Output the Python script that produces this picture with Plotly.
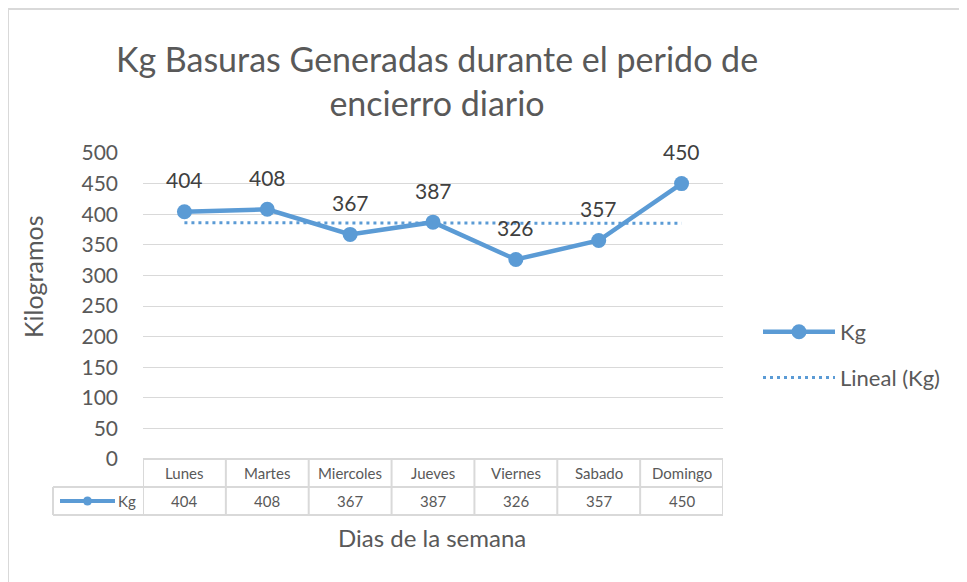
import numpy as np
import plotly.graph_objects as go

# datos del grafico
dias = ["Lunes", "Martes", "Miercoles", "Jueves", "Viernes", "Sabado", "Domingo"]
kg = [404, 408, 367, 387, 326, 357, 450]
y_ticks = [0, 50, 100, 150, 200, 250, 300, 350, 400, 450, 500]

AZUL = "#5B9BD5"
GRIS = "#595959"
REJILLA = "#D9D9D9"
FUENTE = "Lato, 'Open Sans', sans-serif"

# linea de tendencia lineal (como en Excel)
idx = np.arange(len(kg))
pend, orig = np.polyfit(idx, kg, 1)
tendencia = list(orig + pend * idx)

W, H = 967, 582
OFF = 8  # la pagina deja 8px de margen alrededor de la figura
L, R, T, B = 143, 723, 153, 459  # area de trazado en pixeles de pagina


def px(x):
    return (x - L) / (R - L)


def py(y):
    return (B - y) / (B - T)


fig = go.Figure()

fig.add_trace(go.Scatter(
    x=dias, y=kg, name="Kg", mode="lines+markers",
    line=dict(color=AZUL, width=4.5),
    marker=dict(color=AZUL, size=15),
    legendgroup="a",
))
fig.add_trace(go.Scatter(
    x=dias, y=tendencia, name="Lineal (Kg)", mode="lines",
    line=dict(color=AZUL, width=3, dash="3px,4px"),
    legendgroup="b",
))

annotations = []
# etiquetas de datos
for d, v in zip(dias, kg):
    annotations.append(dict(
        x=d, y=v, xref="x", yref="y", text=str(v), showarrow=False,
        yshift=32, font=dict(size=21, color="#404040", family=FUENTE),
    ))

# tabla de datos bajo el eje
fila1 = py(473)
fila2 = py(501)
for d, v in zip(dias, kg):
    annotations.append(dict(
        x=d, y=fila1, xref="x", yref="paper", text=d, showarrow=False,
        xanchor="center", yanchor="middle",
        font=dict(size=15, color=GRIS, family=FUENTE),
    ))
    annotations.append(dict(
        x=d, y=fila2, xref="x", yref="paper", text=str(v), showarrow=False,
        xanchor="center", yanchor="middle",
        font=dict(size=15, color=GRIS, family=FUENTE),
    ))
annotations.append(dict(
    x=px(138), y=fila2, xref="paper", yref="paper", text="Kg", showarrow=False,
    xanchor="right", yanchor="middle",
    font=dict(size=15, color=GRIS, family=FUENTE),
))

# titulos de ejes
annotations.append(dict(
    x=px(33), y=py(277), xref="paper", yref="paper", text="Kilogramos",
    textangle=-90, showarrow=False, xanchor="center", yanchor="middle",
    font=dict(size=25, color=GRIS, family=FUENTE),
))
annotations.append(dict(
    x=px(432), y=py(537), xref="paper", yref="paper", text="Dias de la semana",
    showarrow=False, xanchor="center", yanchor="middle",
    font=dict(size=24, color=GRIS, family=FUENTE),
))

shapes = []
borde = dict(color=REJILLA, width=2)
# lineas horizontales de la tabla
shapes.append(dict(type="line", xref="x", yref="paper", x0=-0.5, x1=6.5,
                   y0=py(459), y1=py(459), line=borde))
for yy in (487, 515):
    shapes.append(dict(type="line", xref="paper", yref="paper", x0=px(53), x1=1,
                       y0=py(yy), y1=py(yy), line=borde))
# lineas verticales de la tabla
for i in range(len(dias) + 1):
    shapes.append(dict(type="line", xref="x", yref="paper", x0=i - 0.5, x1=i - 0.5,
                       y0=py(459), y1=py(515), line=borde))
shapes.append(dict(type="line", xref="paper", yref="paper", x0=px(53), x1=px(53),
                   y0=py(487), y1=py(515), line=borde))
# clave de leyenda dentro de la tabla
shapes.append(dict(type="line", xref="paper", yref="paper", x0=px(60), x1=px(115),
                   y0=fila2, y1=fila2, line=dict(color=AZUL, width=4)))
shapes.append(dict(type="circle", xref="paper", yref="paper",
                   x0=px(83), x1=px(92), y0=py(496.5), y1=py(505.5),
                   fillcolor=AZUL, line=dict(width=0)))
# borde del area del grafico
shapes.append(dict(type="rect", xref="paper", yref="paper", x0=px(8), x1=px(1100),
                   y0=py(700), y1=py(9), line=dict(color=REJILLA, width=2)))

fig.update_layout(
    width=W, height=H,
    margin=dict(l=L - OFF, r=W - (R - OFF), t=T - OFF, b=H - (B - OFF)),
    paper_bgcolor="white", plot_bgcolor="white",
    title=dict(
        text="Kg Basuras Generadas durante el perido de<br>encierro diario",
        x=px(437), xref="paper", xanchor="center",
        y=1 - 64 / H, yref="container", yanchor="middle",
        font=dict(size=34, color=GRIS, family=FUENTE),
    ),
    xaxis=dict(
        type="category", range=[-0.5, 6.5], showticklabels=False,
        showgrid=False, zeroline=False, showline=False,
    ),
    yaxis=dict(
        range=[0, 500], tickvals=y_ticks, showgrid=True, gridcolor=REJILLA,
        gridwidth=1, zeroline=False, showline=False, ticks="",
        ticklabelstandoff=24,
        tickfont=dict(size=21, color=GRIS, family=FUENTE),
    ),
    legend=dict(
        x=px(758), y=py(355), xanchor="left", yanchor="middle",
        font=dict(size=22, color=GRIS, family=FUENTE),
        itemwidth=72, tracegroupgap=14, bgcolor="rgba(0,0,0,0)",
    ),
    annotations=annotations,
    shapes=shapes,
)

fig.write_html("out.html")
